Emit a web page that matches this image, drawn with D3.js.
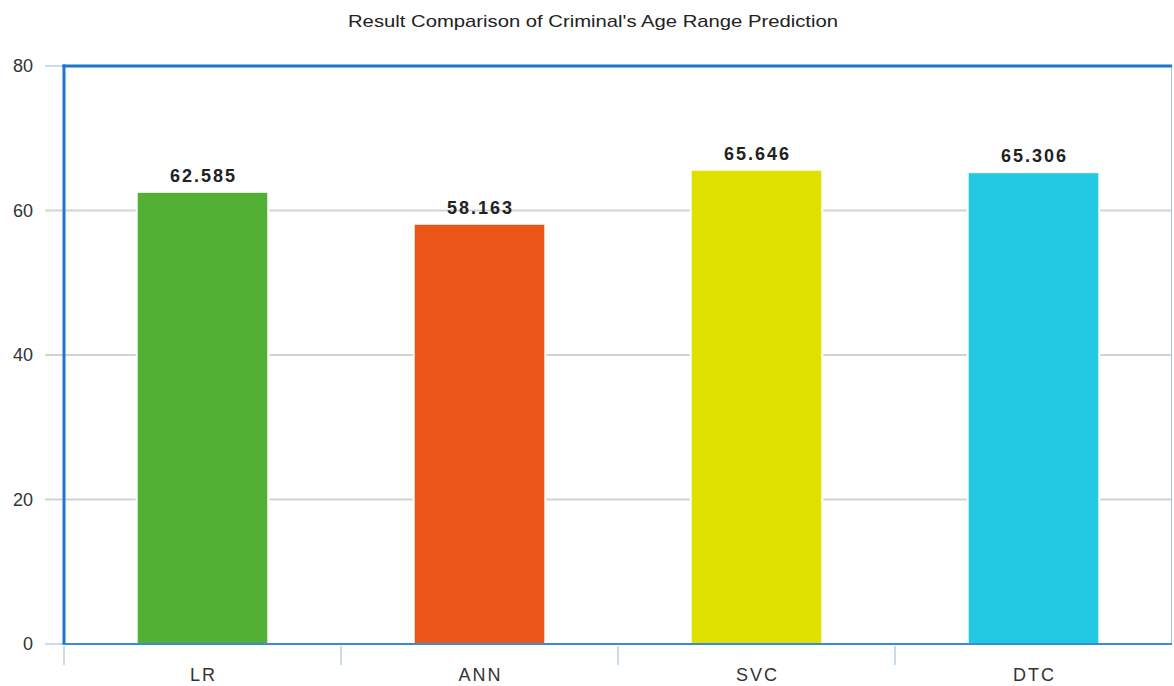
<!DOCTYPE html>
<html>
<head>
<meta charset="utf-8">
<script src="https://cdn.jsdelivr.net/npm/d3@7"></script>
<style>
  html, body { margin: 0; padding: 0; background: #fff; }
  svg { display: block; font-family: "Liberation Sans", Arial, sans-serif; }
</style>
</head>
<body>
<svg id="chart" width="1174" height="686"></svg>
<script>
// Accuracy (%) of each model for age range prediction
const models = ["LR", "ANN", "SVC", "DTC"];
const accuracy = [62.585, 58.163, 65.646, 65.306];
const barColors = ["#52b135", "#eb5518", "#dfe000", "#22c9e3"];
const yTicks = [0, 20, 40, 60, 80];
const title = "Result Comparison of Criminal's Age Range Prediction";

const svg = d3.select("#chart");
const margin = { top: 66, right: 2, bottom: 42, left: 64 };
const W = 1174, H = 686;
const innerW = W - margin.left - margin.right;
const innerH = H - margin.top - margin.bottom;

const x = d3.scaleBand().domain(models).range([0, innerW]).paddingInner(0.525).paddingOuter(0.2625);
const xBand = d3.scaleBand().domain(models).range([0, innerW]);
const y = d3.scaleLinear().domain([0, 80]).range([innerH, 0]);

const g = svg.append("g").attr("transform", `translate(${margin.left},${margin.top})`);

// horizontal gridlines, extended left as tick marks
g.append("g")
  .selectAll("line")
  .data(yTicks)
  .join("line")
  .attr("x1", -19).attr("x2", innerW)
  .attr("y1", d => y(d)).attr("y2", d => y(d))
  .attr("stroke", d => (d === 0 || d === 80) ? "#c9dcee" : "#d3d3d3")
  .attr("stroke-width", 2);

// y tick labels
g.append("g")
  .selectAll("text")
  .data(yTicks)
  .join("text")
  .attr("x", -31).attr("y", d => y(d))
  .attr("dy", "0.35em")
  .attr("text-anchor", "end")
  .attr("font-size", 18)
  .attr("fill", "#333")
  .text(d => d);

// bars
g.append("g")
  .selectAll("rect")
  .data(models)
  .join("rect")
  .attr("x", d => x(d))
  .attr("width", x.bandwidth())
  .attr("y", (d, i) => y(accuracy[i]))
  .attr("height", (d, i) => innerH - y(accuracy[i]))
  .attr("fill", (d, i) => barColors[i])
  .attr("stroke", "#fff")
  .attr("stroke-width", 2);

// value labels (dx offsets the trailing letter-spacing)
g.append("g")
  .selectAll("text")
  .data(models)
  .join("text")
  .attr("x", d => x(d) + x.bandwidth() / 2)
  .attr("dx", 1)
  .attr("y", (d, i) => y(accuracy[i]) - 10)
  .attr("text-anchor", "middle")
  .attr("font-size", 18)
  .attr("font-weight", "bold")
  .attr("letter-spacing", 2)
  .attr("fill", "#222")
  .text((d, i) => accuracy[i].toFixed(3));

// x band separators below the axis
g.append("g")
  .selectAll("line")
  .data(models)
  .join("line")
  .attr("x1", d => xBand(d)).attr("x2", d => xBand(d))
  .attr("y1", innerH + 2).attr("y2", innerH + 21)
  .attr("stroke", "#c9dcee")
  .attr("stroke-width", 2);

// x category labels
g.append("g")
  .selectAll("text")
  .data(models)
  .join("text")
  .attr("x", d => xBand(d) + xBand.bandwidth() / 2)
  .attr("dx", 1)
  .attr("y", innerH + 37)
  .attr("text-anchor", "middle")
  .attr("font-size", 18)
  .attr("letter-spacing", 2)
  .attr("fill", "#333")
  .text(d => d);

// plot frame
g.append("line").attr("x1", innerW - 0.5).attr("x2", innerW - 0.5).attr("y1", 0).attr("y2", innerH)
  .attr("stroke", "#9cc6ea").attr("stroke-width", 1);
g.append("line").attr("x1", -1.5).attr("x2", innerW).attr("y1", innerH).attr("y2", innerH)
  .attr("stroke", "#3a8ad6").attr("stroke-width", 2);
g.append("line").attr("x1", -1.5).attr("x2", innerW).attr("y1", 0).attr("y2", 0)
  .attr("stroke", "#1a78cf").attr("stroke-width", 3);
g.append("line").attr("x1", 0).attr("x2", 0).attr("y1", -1.5).attr("y2", innerH)
  .attr("stroke", "#1a78cf").attr("stroke-width", 3);

// title
svg.append("text")
  .attr("x", 593).attr("y", 27)
  .attr("text-anchor", "middle")
  .attr("font-size", 17)
  .attr("textLength", 490)
  .attr("lengthAdjust", "spacingAndGlyphs")
  .attr("fill", "#222")
  .text(title);
</script>
</body>
</html>
